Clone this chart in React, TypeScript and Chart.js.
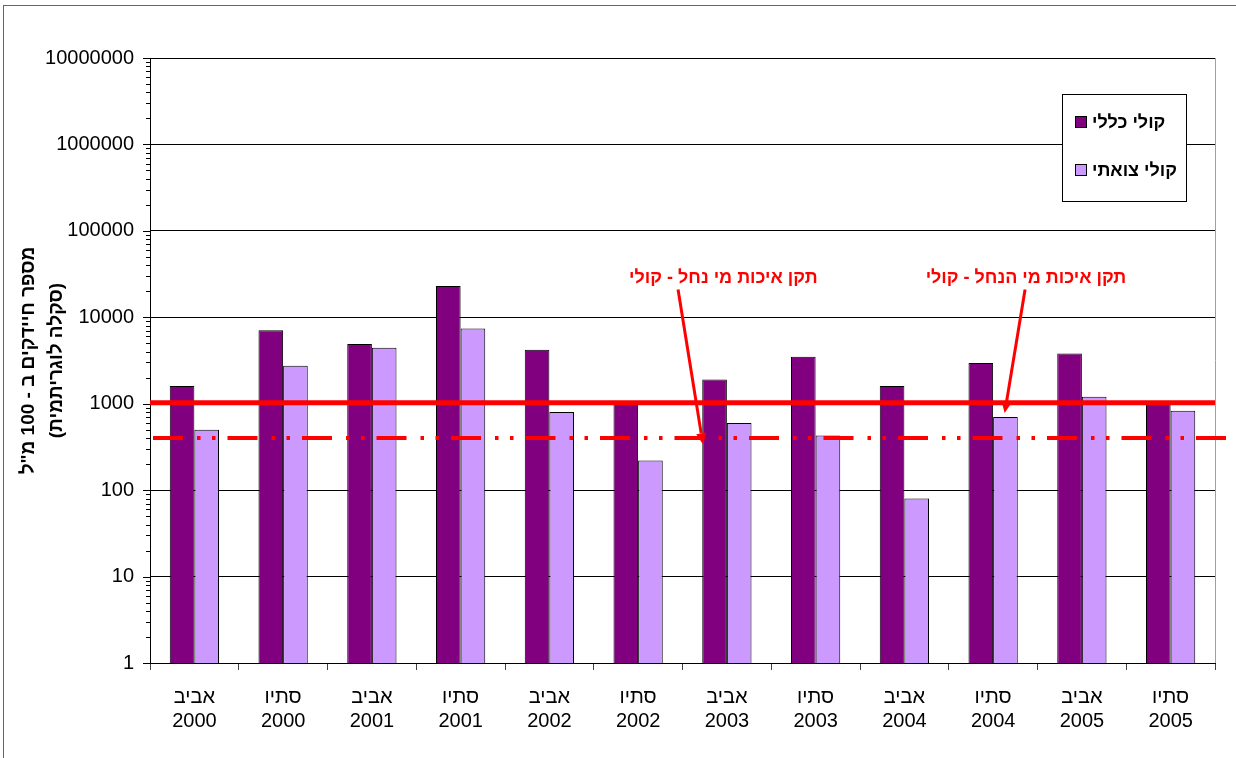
import React, { useEffect, useRef } from "react";
import { Chart, registerables } from "chart.js";

Chart.register(...registerables);

// ---------- data ----------
const categories: string[][] = [
  ["אביב", "2000"], ["סתיו", "2000"],
  ["אביב", "2001"], ["סתיו", "2001"],
  ["אביב", "2002"], ["סתיו", "2002"],
  ["אביב", "2003"], ["סתיו", "2003"],
  ["אביב", "2004"], ["סתיו", "2004"],
  ["אביב", "2005"], ["סתיו", "2005"],
];
const seriesNames = ["קולי כללי", "קולי צואתי"];
const totalColiform = [1600, 7100, 4900, 23000, 4200, 1050, 1900, 3500, 1600, 2950, 3800, 1000];
const fecalColiform = [500, 2750, 4450, 7400, 800, 220, 600, 430, 80, 700, 1200, 830];
const standardRiver = 1000; // solid line
const standardStream = 400; // dash-dot line
const yMajorTicks = [1, 10, 100, 1000, 10000, 100000, 1000000, 10000000];
const yAxisTitle = ["מספר חיידקים ב - 100 מ\"ל", "(סקלה לוגריתמית)"];
const annotationTexts = ["תקן איכות מי נחל - קולי", "תקן איכות מי הנחל - קולי"];
// annotation anchors in data units: [category index, value]
const annotationTextAt = [[5.96, 28600], [9.37, 28600]];
const annotationArrowFrom = [[5.45, 21000], [9.36, 21000]];
const annotationArrowTo = [[5.73, 340], [9.13, 780]];

const FONT = "'Liberation Sans', Arial, sans-serif";
const DARK = "#800080";
const LIGHT = "#CC99FF";

const yAllTicks: number[] = [];
for (let d = 0; d < yMajorTicks.length - 1; d++) {
  for (let m = 1; m <= 9; m++) yAllTicks.push(m * yMajorTicks[d]);
}
yAllTicks.push(yMajorTicks[yMajorTicks.length - 1]);
const isMajor = (v: number) => yMajorTicks.indexOf(v) >= 0;

function xAt(chart: any, idx: number) {
  const x = chart.scales.x;
  const w = x.getPixelForValue(1) - x.getPixelForValue(0);
  return x.getPixelForValue(0) + idx * w;
}

const decorPlugin = {
  id: "decor",
  beforeDraw(chart: any) {
    const ctx = chart.ctx;
    ctx.save();
    ctx.fillStyle = "#ffffff";
    ctx.fillRect(0, 0, chart.width, chart.height);
    ctx.strokeStyle = "#666666";
    ctx.lineWidth = 1;
    ctx.strokeRect(3.5, 5.5, chart.width + 20, chart.height + 20);
    ctx.restore();
  },
  afterDatasetsDraw(chart: any) {
    const ctx = chart.ctx;
    const a = chart.chartArea;
    const y = chart.scales.y;
    ctx.save();
    // plot area right border
    ctx.strokeStyle = "#a0a0a0";
    ctx.lineWidth = 1;
    ctx.beginPath();
    ctx.moveTo(Math.round(a.right) + 0.5, a.top);
    ctx.lineTo(Math.round(a.right) + 0.5, a.bottom);
    ctx.stroke();

    // y tick marks (major longer than minor)
    ctx.strokeStyle = "#000000";
    y.ticks.forEach((t: any) => {
      const py = Math.round(y.getPixelForValue(t.value)) + 0.5;
      const len = isMajor(t.value) ? 7 : 4;
      ctx.beginPath();
      ctx.moveTo(a.left - len, py);
      ctx.lineTo(a.left, py);
      ctx.stroke();
    });

    // solid standard line
    ctx.strokeStyle = "#ff0000";
    const ys = y.getPixelForValue(standardRiver) - 1;
    ctx.lineWidth = 5;
    ctx.beginPath();
    ctx.moveTo(a.left, ys);
    ctx.lineTo(a.right, ys);
    ctx.stroke();

    // dash-dot standard line
    const yd = y.getPixelForValue(standardStream);
    ctx.lineWidth = 4;
    ctx.setLineDash([30, 14, 3.5, 11.5, 3.5, 12]);
    ctx.beginPath();
    ctx.moveTo(a.left + 3, yd);
    ctx.lineTo(chart.width - 4, yd);
    ctx.stroke();
    ctx.setLineDash([]);

    // annotations
    ctx.fillStyle = "#ff0000";
    ctx.font = `bold 18px ${FONT}`;
    ctx.textAlign = "center";
    ctx.textBaseline = "middle";
    for (let i = 0; i < annotationTexts.length; i++) {
      const tx = xAt(chart, annotationTextAt[i][0]);
      const ty = y.getPixelForValue(annotationTextAt[i][1]);
      ctx.fillText(annotationTexts[i], tx, ty);
      const x0 = xAt(chart, annotationArrowFrom[i][0]);
      const y0 = y.getPixelForValue(annotationArrowFrom[i][1]);
      const x1 = xAt(chart, annotationArrowTo[i][0]);
      const y1 = y.getPixelForValue(annotationArrowTo[i][1]);
      const ang = Math.atan2(y1 - y0, x1 - x0);
      const hl = 11, hw = 5;
      const bx = x1 - hl * Math.cos(ang), by = y1 - hl * Math.sin(ang);
      ctx.lineWidth = 3;
      ctx.beginPath();
      ctx.moveTo(x0, y0);
      ctx.lineTo(bx, by);
      ctx.stroke();
      ctx.beginPath();
      ctx.moveTo(x1, y1);
      ctx.lineTo(bx + hw * Math.sin(ang), by - hw * Math.cos(ang));
      ctx.lineTo(bx - hw * Math.sin(ang), by + hw * Math.cos(ang));
      ctx.closePath();
      ctx.fill();
    }
    ctx.restore();
  },
  afterDraw(chart: any) {
    // legend box
    const ctx = chart.ctx;
    ctx.save();
    const bx = 1062.5, by = 94.5, bw = 124, bh = 107;
    ctx.fillStyle = "#ffffff";
    ctx.fillRect(bx, by, bw, bh);
    ctx.strokeStyle = "#000000";
    ctx.lineWidth = 1;
    ctx.strokeRect(bx, by, bw, bh);
    ctx.font = `bold 18px ${FONT}`;
    ctx.textAlign = "left";
    ctx.textBaseline = "middle";
    chart.data.datasets.forEach((ds: any, i: number) => {
      const cy = 123 + i * 48;
      ctx.fillStyle = ds.backgroundColor;
      ctx.fillRect(1075.5, cy - 6.5, 11, 11);
      ctx.strokeRect(1075.5, cy - 6.5, 11, 11);
      ctx.fillStyle = "#000000";
      ctx.fillText(ds.label, 1092, cy);
    });
    ctx.restore();
  },
};

export default function App() {
  const ref = useRef<HTMLCanvasElement | null>(null);
  useEffect(() => {
    if (!ref.current) return;
    Chart.defaults.font.family = FONT;
    const chart = new Chart(ref.current, {
      type: "bar",
      data: {
        labels: categories,
        datasets: [
          {
            label: seriesNames[0],
            data: totalColiform,
            backgroundColor: DARK,
            borderColor: "#000000",
            borderWidth: 1,
            categoryPercentage: 0.555,
            barPercentage: 1,
          },
          {
            label: seriesNames[1],
            data: fecalColiform,
            backgroundColor: LIGHT,
            borderColor: "#000000",
            borderWidth: 1,
            categoryPercentage: 0.555,
            barPercentage: 1,
          },
        ],
      },
      options: {
        animation: false,
        responsive: false,
        devicePixelRatio: 1,
        layout: { padding: { top: 58, right: 21, left: 0, bottom: 0 } },
        plugins: {
          legend: { display: false },
          tooltip: { enabled: false },
        },
        scales: {
          x: {
            afterFit: (s: any) => { s.height = 95; },
            grid: {
              display: true,
              drawOnChartArea: false,
              drawTicks: true,
              tickLength: 7,
              color: "#404040",
              offset: true,
            },
            border: { display: true, color: "#000000", width: 1 },
            ticks: {
              color: "#000000",
              font: { size: 20, lineHeight: 1.22 },
              padding: 15,
              maxRotation: 0,
              autoSkip: false,
            },
          },
          y: {
            type: "logarithmic",
            min: 1,
            max: 10000000,
            afterFit: (s: any) => { s.width = 150; },
            afterBuildTicks: (s: any) => {
              s.ticks = yAllTicks.map((v) => ({ value: v, major: isMajor(v) }));
            },
            grid: {
              color: (c: any) => (c.tick && isMajor(c.tick.value) ? "#000000" : "rgba(0,0,0,0)"),
              drawTicks: false,
            },
            border: { display: true, color: "#000000", width: 1 },
            ticks: {
              color: "#000000",
              font: { size: 20 },
              padding: 16,
              autoSkip: false,
              callback: (v: any) => (isMajor(Number(v)) ? String(v) : ""),
            },
            title: {
              display: true,
              text: yAxisTitle,
              color: "#000000",
              font: { size: 19, weight: "bold", lineHeight: 1.47 },
              padding: { top: 15, bottom: 0 },
            },
          },
        },
      },
      plugins: [decorPlugin],
    } as any);
    return () => chart.destroy();
  }, []);
  return (
    <div style={{ position: "absolute", left: 0, top: 0, width: 1236, height: 758 }}>
      <canvas ref={ref} width={1236} height={758} style={{ display: "block" }} />
    </div>
  );
}
